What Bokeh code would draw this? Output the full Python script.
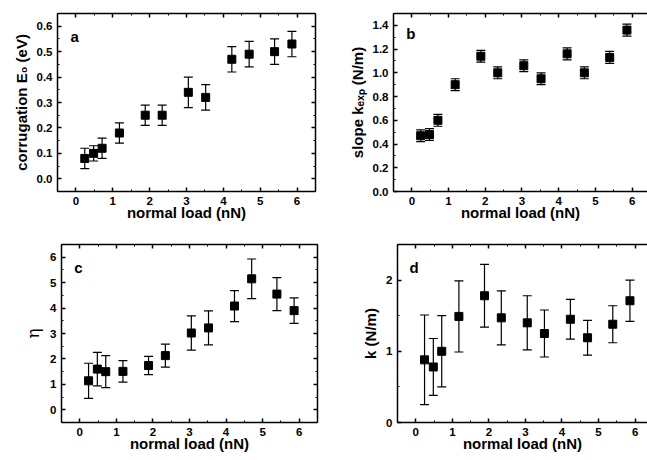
from bokeh.plotting import figure
from bokeh.layouts import column, row
from bokeh.models import (ColumnDataSource, Whisker, TeeHead, LinearAxis,
                          SingleIntervalTicker, NumeralTickFormatter, Label, Range1d,
                          CustomJSTickFormatter)
from bokeh.embed import file_html
from bokeh.resources import INLINE

# ---- data ----
load = [0.24, 0.48, 0.71, 1.18, 1.88, 2.34, 3.05, 3.52, 4.23, 4.70, 5.39, 5.86]

corrugation = [0.08, 0.10, 0.12, 0.18, 0.25, 0.25, 0.34, 0.32, 0.47, 0.49, 0.50, 0.53]
corrugation_err = [0.04, 0.03, 0.04, 0.04, 0.04, 0.04, 0.06, 0.05, 0.05, 0.05, 0.05, 0.05]

slope = [0.47, 0.48, 0.60, 0.90, 1.14, 1.00, 1.06, 0.95, 1.16, 1.00, 1.13, 1.36]
slope_err = [0.05] * 12

eta = [1.14, 1.60, 1.50, 1.51, 1.74, 2.13, 3.02, 3.22, 4.08, 5.15, 4.55, 3.90]
eta_err = [0.69, 0.66, 0.63, 0.42, 0.36, 0.45, 0.67, 0.67, 0.61, 0.78, 0.65, 0.50]

kspring = [0.88, 0.78, 1.00, 1.49, 1.78, 1.47, 1.40, 1.25, 1.45, 1.19, 1.38, 1.71]
kspring_err = [0.63, 0.40, 0.50, 0.50, 0.44, 0.38, 0.38, 0.33, 0.28, 0.245, 0.26, 0.29]

x_ticks_interval = 1

FONT = "Liberation Sans"


def make_panel(y, err, width, height, mb_left, mb_right, mb_top, mb_bottom,
               x_end, y_range, y_interval, y_fmt, ylabel, letter, letter_pos,
               right_axis=True, ylabel_bold=True, ylabel_size="15px"):
    p = figure(width=width, height=height, output_backend="svg",
               toolbar_location=None, x_range=Range1d(-0.5, x_end),
               y_range=Range1d(*y_range), x_axis_location=None,
               y_axis_location=None, min_border_left=mb_left,
               min_border_right=mb_right, min_border_top=mb_top,
               min_border_bottom=mb_bottom)
    p.outline_line_color = None
    p.xgrid.visible = False
    p.ygrid.visible = False
    p.background_fill_color = "white"
    p.border_fill_color = "white"

    xt = SingleIntervalTicker(interval=x_ticks_interval, num_minor_ticks=2)
    yt = SingleIntervalTicker(interval=y_interval, num_minor_ticks=2)

    def style(ax, labels):
        ax.axis_line_color = "black"
        ax.axis_line_width = 1.5
        ax.major_tick_in = 4
        ax.major_tick_out = 0
        ax.minor_tick_in = 2
        ax.minor_tick_out = 0
        ax.major_tick_line_color = "black"
        ax.minor_tick_line_color = "black"
        ax.major_tick_line_width = 1.5
        ax.minor_tick_line_width = 1
        if labels:
            ax.major_label_text_font = FONT
            ax.major_label_text_font_style = "bold"
            ax.major_label_text_font_size = "11.5px"
            ax.major_label_text_color = "black"
            ax.major_label_standoff = 5
            ax.axis_label_text_font = FONT
            ax.axis_label_text_font_style = "bold"
            ax.axis_label_text_font_size = "15px"
            ax.axis_label_text_color = "black"
            ax.axis_label_standoff = -4
        else:
            ax.formatter = CustomJSTickFormatter(code="return ''")
            ax.major_label_standoff = 0

    xb = LinearAxis(ticker=xt, axis_label="normal load (nN)")
    style(xb, True)
    p.add_layout(xb, "below")
    yl = LinearAxis(ticker=yt, axis_label=ylabel)
    if y_fmt:
        yl.formatter = NumeralTickFormatter(format=y_fmt)
    style(yl, True)
    yl.major_label_standoff = 5
    yl.axis_label_standoff = 4
    if not ylabel_bold:
        yl.axis_label_text_font_style = "normal"
        yl.axis_label_text_font = "DejaVu Serif"
    yl.axis_label_text_font_size = ylabel_size
    p.add_layout(yl, "left")
    xa = LinearAxis(ticker=xt)
    style(xa, False)
    p.add_layout(xa, "above")
    if right_axis:
        yr = LinearAxis(ticker=yt)
        style(yr, False)
        p.add_layout(yr, "right")

    src = ColumnDataSource(dict(x=load, y=y,
                                lo=[a - b for a, b in zip(y, err)],
                                hi=[a + b for a, b in zip(y, err)]))
    w = Whisker(base="x", upper="hi", lower="lo", source=src,
                line_color="black", line_width=1.2,
                upper_head=TeeHead(size=9, line_color="black", line_width=1.2),
                lower_head=TeeHead(size=9, line_color="black", line_width=1.2))
    p.add_layout(w)
    p.scatter("x", "y", source=src, marker="square", size=8,
              fill_color="black", line_color="black")

    p.add_layout(Label(x=letter_pos[0], y=letter_pos[1], text=letter,
                       text_font=FONT, text_font_style="bold",
                       text_font_size="15px", text_color="black",
                       text_baseline="alphabetic"))
    return p


pa = make_panel(corrugation, corrugation_err, 340, 226, 57, 25, 13, 35,
                6.5, (-0.05, 0.65), 0.1, "0.0", "corrugation E\u2080 (eV)",
                "a", (-0.15, 0.558))
pb = make_panel(slope, slope_err, 307, 226, 53, 0, 13, 35,
                6.42, (0.0, 1.5), 0.2, "0.0", "slope k\u2091\u2093\u209a (N/m)",
                "b", (-0.15, 1.33), right_axis=False)
pc = make_panel(eta, eta_err, 340, 234, 61, 23, 18, 38,
                6.5, (-0.5, 6.5), 1, None, "\u03b7",
                "c", (-0.15, 5.6), ylabel_bold=False, ylabel_size="17px")
pd = make_panel(kspring, kspring_err, 307, 234, 57, 0, 18, 38,
                6.34, (0.0, 2.5), 1, None, "k (N/m)",
                "d", (-0.17, 2.18), right_axis=False)

layout = column(row(pa, pb), row(pc, pd))

with open("out.html", "w") as f:
    f.write(file_html(layout, INLINE))
